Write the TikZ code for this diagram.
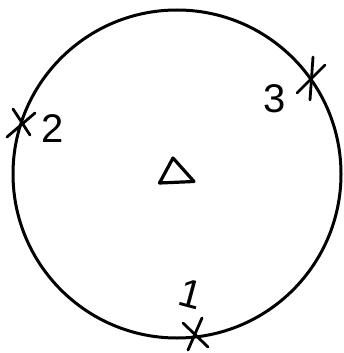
\documentclass[tikz,border=0pt]{standalone}
\usepackage{fontspec}
\setmainfont{Liberation Sans}
\begin{document}
\begin{tikzpicture}[x=1pt,y=-1pt,
  ink/.style={line width=3pt,line cap=round,line join=round,black},
  xmark/.style={line width=2.8pt,line cap=round,black},
  lbl/.style={font=\fontsize{40}{40}\selectfont,inner sep=0pt}]
\useasboundingbox (0,0) rectangle (343,353);
% circle
\node[draw,ink,circle,minimum size=328pt,inner sep=0pt] (c) at (177,174) {};
% triangle
\draw[ink,line width=3.2pt] (173,158) -- (159.5,183) -- (194,181.5) -- cycle;
% mark 2
\coordinate (m2) at (22,123);
\draw[xmark] (13,109) -- (30,135);
\draw[xmark] (35,113) -- (7,137);
\node[lbl] (l2) at (53,129) {2};
% mark 3
\coordinate (m3) at (312,77);
\draw[xmark] (313,57) -- (310,100);
\draw[xmark] (325,65) -- (297,93);
\node[lbl] (l3) at (275,99) {3};
% mark 1
\coordinate (m1) at (195,335);
\draw[xmark] (183,323) -- (208,347);
\draw[xmark] (202,318) -- (188,350);
\node[lbl,rotate=-15] (l1) at (191,294) {1};
\end{tikzpicture}
\end{document}
